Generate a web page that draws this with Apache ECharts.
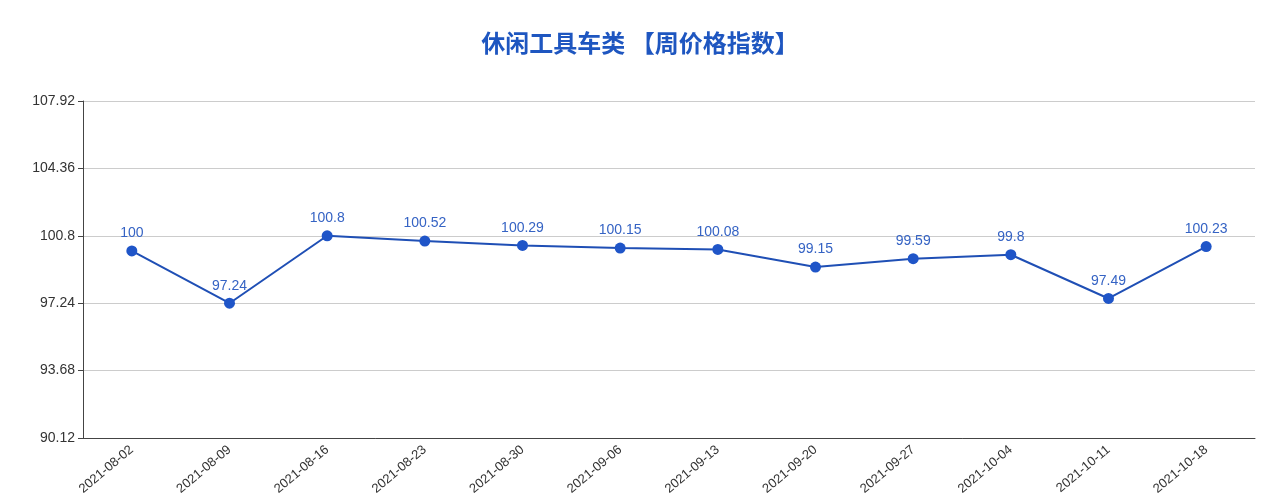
<!DOCTYPE html>
<html lang="zh">
<head>
    <meta charset="UTF-8">
    <title>休闲工具车类 周价格指数</title>
    <style>
        html, body { margin: 0; padding: 0; background: #fff; }
        #container { width: 1280px; height: 504px; }
    </style>
</head>
<body>
<div id="container"></div>
<script src="https://cdn.jsdelivr.net/npm/echarts@6/dist/echarts.min.js"></script>
<script>
    var weeks = ['2021-08-02', '2021-08-09', '2021-08-16', '2021-08-23', '2021-08-30', '2021-09-06',
        '2021-09-13', '2021-09-20', '2021-09-27', '2021-10-04', '2021-10-11', '2021-10-18'];
    var priceIndex = [100, 97.24, 100.8, 100.52, 100.29, 100.15, 100.08, 99.15, 99.59, 99.8, 97.49, 100.23];
    var yMin = 90.12;
    var yMax = 107.92;
    var yStep = 3.56;

    var myChart = echarts.init(document.getElementById('container'));
    var option = {
        title: {
            text: '休闲工具车类 【周价格指数】',
            left: 'center',
            top: 26,
            textStyle: {
                color: '#1e56c0',
                fontSize: 24,
                fontWeight: 'bold',
                fontFamily: 'Noto Sans CJK SC'
            }
        },
        grid: {
            left: 83,
            right: 25,
            top: 101,
            bottom: 66
        },
        xAxis: {
            type: 'category',
            data: weeks,
            axisLine: { lineStyle: { color: '#444', width: 1 } },
            axisTick: { lineStyle: { color: '#444' } },
            axisLabel: {
                rotate: 40,
                color: '#333',
                fontSize: 13,
                margin: 10,
                interval: 0
            }
        },
        yAxis: {
            type: 'value',
            min: yMin,
            max: yMax,
            interval: yStep,
            axisLine: { show: true, lineStyle: { color: '#444', width: 1 } },
            axisTick: { show: true, lineStyle: { color: '#444' } },
            axisLabel: {
                color: '#333',
                fontSize: 14,
                formatter: function (v) {
                    return String(parseFloat(v.toFixed(2)));
                }
            },
            splitLine: { lineStyle: { color: '#ccc' } }
        },
        series: [{
            type: 'line',
            data: priceIndex,
            symbol: 'circle',
            symbolSize: 11,
            color: '#1f55c8',
            lineStyle: { width: 2, color: '#1f4fb5' },
            label: {
                show: true,
                position: 'top',
                color: '#3563c4',
                fontSize: 14,
                distance: 5
            }
        }]
    };
    myChart.setOption(option, true);
</script>
</body>
</html>
